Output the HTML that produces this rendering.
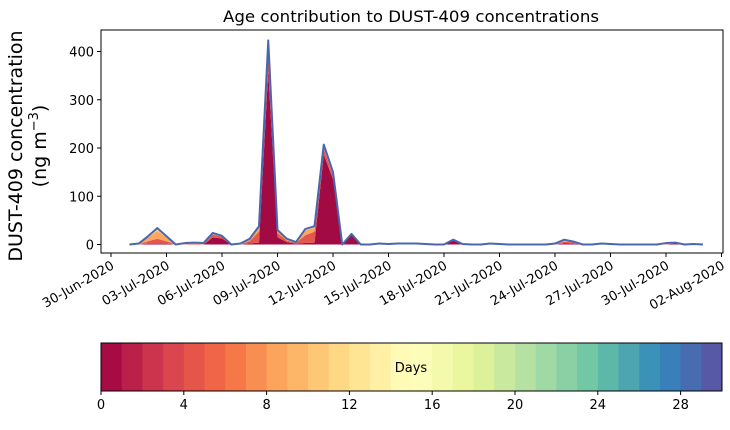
<!DOCTYPE html>
<html><head><meta charset="utf-8"><style>
body{margin:0;background:#fff;width:730px;height:425px;overflow:hidden;font-family:"Liberation Sans","DejaVu Sans",sans-serif}
text{font-family:"DejaVu Sans","Liberation Sans",sans-serif}
</style></head><body>
<svg id="c" width="730" height="425"></svg>
<script>
const startDay = 1.0;
const stepDays = 0.5;
const totals = [0,2,17,34,17,0,3,4,3,24,18,0,2,12,38,423,30,12,5,32,38,207,150,0,22,0,0,2,1,2,2,2,1,0,0,10,1,0,0,2,1,0,0,0,0,0,2,10,6,0,0,2,1,0,0,0,0,0,3,4,0,1,0];
const freshFrac = [0,0,0.1,0.05,0.1,0,0,0,0,0.6,0.7,0,0,0.2,0.1,0.85,0.5,0.4,0.3,0.1,0.1,0.9,0.9,0,0.9,0,0,0,0,0,0,0,0,0,0,0.8,0,0,0,0,0,0,0,0,0,0,0,0.2,0.3,0,0,0,0,0,0,0,0,0,0,0.6,0,0,0];
const youngFrac = [0,0.3,0.3,0.3,0.3,0,0.3,0.3,0.3,0.25,0.2,0,0.3,0.4,0.6,0.08,0.3,0.3,0.3,0.5,0.6,0.06,0.05,0,0.05,0,0,0.2,0.2,0.2,0.2,0.2,0.2,0,0,0.1,0.2,0,0,0.2,0.2,0,0,0,0,0,0.3,0.4,0.4,0,0,0.2,0.2,0,0,0,0,0,0.3,0.2,0,0.2,0];
const xTickDays = [0,3,6,9,12,15,18,21,24,27,30,33];
const xTickLabels = ["30-Jun-2020","03-Jul-2020","06-Jul-2020","09-Jul-2020","12-Jul-2020","15-Jul-2020","18-Jul-2020","21-Jul-2020","24-Jul-2020","27-Jul-2020","30-Jul-2020","02-Aug-2020"];
const yTicks = [0,100,200,300,400];
const cbTicks = [0,4,8,12,16,20,24,28];

const NS="http://www.w3.org/2000/svg", svg=document.getElementById('c');
function el(t,a,p){const e=document.createElementNS(NS,t);for(const k in a)e.setAttribute(k,a[k]);(p||svg).appendChild(e);return e;}
const X0=101,X1=723,Y0=30,Y1=253;
const xs=d=>111+d*18.5, ys=v=>244.5-v*(193/400);
const spectral=["#9e0142","#d53e4f","#f46d43","#fdae61","#fee08b","#ffffbf","#e6f598","#abdda4","#66c2a5","#3288bd","#5e4fa2"];
function hex(h){return [1,3,5].map(i=>parseInt(h.substr(i,2),16));}
function cmap(t){const p=t*10,i=Math.min(9,Math.floor(p)),f=p-i,a=hex(spectral[i]),b=hex(spectral[i+1]);return `rgb(${a.map((v,k)=>Math.round(v+(b[k]-v)*f)).join(',')})`;}

let t=el('text',{x:411,y:22,'text-anchor':'middle','font-size':16,textLength:376,lengthAdjust:'spacingAndGlyphs'});t.textContent='Age contribution to DUST-409 concentrations';


const bands=[
 {f:(i)=>freshFrac[i], c:'#a20a44', n:'age-band-fresh'},
 {f:(i)=>youngFrac[i], c:'#e3584c', n:'age-band-young'},
 {f:(i)=>Math.max(0,1-freshFrac[i]-youngFrac[i])*0.75, c:'#fba75f', n:'age-band-mid'},
 {f:(i)=>Math.max(0,1-freshFrac[i]-youngFrac[i])*0.25, c:'#fee08b', n:'age-band-old'}];
const cum=totals.map(()=>0);
bands.forEach(b=>{
  const lo=cum.slice();
  totals.forEach((v,i)=>cum[i]+=v*b.f(i));
  let d='';
  totals.forEach((v,i)=>{d+=(i?'L':'M')+xs(startDay+i*stepDays)+','+ys(cum[i]);});
  for(let i=totals.length-1;i>=0;i--)d+='L'+xs(startDay+i*stepDays)+','+ys(lo[i]);
  const p=el('path',{d:d+'Z',fill:b.c,stroke:'none'});
  
  
});
let ld='';totals.forEach((v,i)=>{ld+=(i?'L':'M')+xs(startDay+i*stepDays)+','+ys(v);});
const line=el('path',{d:ld,fill:'none',stroke:'#4a67ad','stroke-width':2,'stroke-linejoin':'round'});


const fr=el('rect',{x:X0,y:Y0,width:X1-X0,height:Y1-Y0,fill:'none',stroke:'#000','stroke-width':1});


yTicks.forEach(v=>{el('line',{x1:X0-4,x2:X0,y1:ys(v),y2:ys(v),stroke:'#000'});
 const tt=el('text',{x:X0-7,y:ys(v)+5,'text-anchor':'end','font-size':13});tt.textContent=v;
 
 });
xTickDays.forEach((d,i)=>{const x=xs(d);el('line',{x1:x,x2:x,y1:Y1,y2:Y1+4,stroke:'#000'});
 const tt=el('text',{x:0,y:0,'text-anchor':'end','font-size':13,transform:`translate(${x+4},${Y1+15}) rotate(-30)`});tt.textContent=xTickLabels[i];
 
 });
const yl=el('text',{transform:'translate(22,146) rotate(-90)','text-anchor':'middle','font-size':19});
yl.innerHTML='<tspan x="0" y="0">DUST-409 concentration</tspan><tspan x="0" y="24">(ng m<tspan dy="-8" font-size="13">−3</tspan><tspan dy="8">)</tspan></tspan>';


const CB0=101,CB1=722,CBy=343,CBh=48,w=(CB1-CB0)/30;
for(let i=0;i<30;i++){const r=el('rect',{x:CB0+i*w,y:CBy,width:w+0.5,height:CBh,fill:cmap((i+0.5)/30)});
 
 }
const cf=el('rect',{x:CB0,y:CBy,width:CB1-CB0,height:CBh,fill:'none',stroke:'#000'});


cbTicks.forEach(v=>{const x=CB0+v*w;el('line',{x1:x,x2:x,y1:CBy+CBh,y2:CBy+CBh+4,stroke:'#000'});
 const tt=el('text',{x:x,y:CBy+CBh+18,'text-anchor':'middle','font-size':13});tt.textContent=v;
 
 });
const dl=el('text',{x:411,y:372,'text-anchor':'middle','font-size':13});dl.textContent='Days';


</script>
</body></html>
